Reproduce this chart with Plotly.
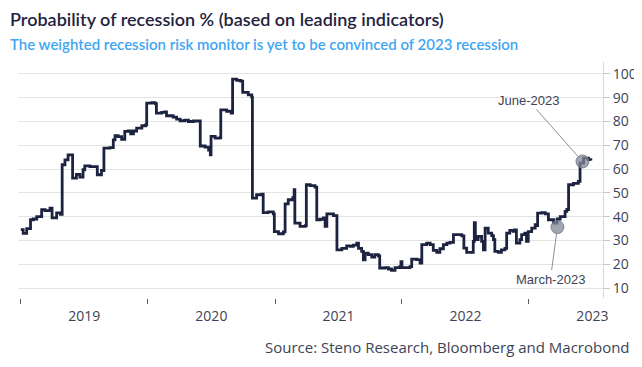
import plotly.graph_objects as go

dates = [
"2019-01-01","2019-01-08","2019-01-18","2019-01-29","2019-02-06","2019-02-16","2019-03-02","2019-03-12","2019-03-26","2019-04-01",
"2019-04-14","2019-04-25","2019-04-30","2019-05-08","2019-05-17","2019-05-27","2019-05-30","2019-06-10","2019-06-20","2019-06-29",
"2019-07-04","2019-07-19","2019-08-02","2019-08-09","2019-08-21","2019-08-28","2019-09-14","2019-09-24","2019-09-29","2019-10-08",
"2019-10-18","2019-10-27","2019-11-06","2019-11-13","2019-11-21","2019-11-30","2019-12-15","2019-12-26","2019-12-29",
"2020-01-12","2020-01-22","2020-01-26","2020-02-10","2020-02-19","2020-02-24","2020-03-14","2020-03-24","2020-04-03","2020-04-17",
"2020-04-27","2020-05-11","2020-05-28","2020-05-31","2020-06-14","2020-06-24","2020-06-29","2020-07-01","2020-07-13","2020-07-27",
"2020-07-29","2020-08-15","2020-08-28","2020-09-01","2020-09-13","2020-09-24","2020-09-30","2020-10-16","2020-10-26","2020-10-28",
"2020-11-09","2020-11-24","2020-11-28","2020-12-12","2020-12-27","2020-12-30",
"2021-01-11","2021-01-25","2021-01-30","2021-02-08","2021-02-21","2021-02-25","2021-02-27","2021-03-14","2021-03-29","2021-04-01",
"2021-04-12","2021-04-26","2021-05-01","2021-05-11","2021-05-20","2021-05-25","2021-05-30","2021-06-08","2021-06-18","2021-06-28",
"2021-07-12","2021-07-22","2021-07-26","2021-08-05","2021-08-14","2021-08-24","2021-08-29","2021-09-07","2021-09-12","2021-09-17",
"2021-09-26","2021-10-06","2021-10-15","2021-10-25","2021-10-29","2021-11-13","2021-11-23","2021-12-02","2021-12-12","2021-12-26",
"2021-12-29",
"2022-01-01","2022-01-15","2022-01-24","2022-01-29","2022-02-12","2022-02-22","2022-02-27","2022-03-13","2022-03-23","2022-04-01",
"2022-04-11","2022-04-20","2022-04-30","2022-05-10","2022-05-19","2022-05-29","2022-06-07","2022-06-22","2022-06-28","2022-07-06",
"2022-07-20","2022-07-25","2022-07-28","2022-07-31","2022-08-08","2022-08-18","2022-08-23","2022-08-28","2022-09-06","2022-09-16",
"2022-09-21","2022-09-25","2022-10-05","2022-10-14","2022-10-24","2022-10-29","2022-11-07","2022-11-17","2022-11-21","2022-11-26",
"2022-12-06","2022-12-11","2022-12-20","2022-12-25","2022-12-30",
"2023-01-09","2023-01-19","2023-01-23","2023-01-26","2023-02-07","2023-02-17","2023-02-26","2023-03-13","2023-03-23","2023-04-01",
"2023-04-15","2023-04-20","2023-04-25","2023-05-09","2023-05-23","2023-05-28","2023-06-07","2023-06-17","2023-06-21","2023-06-28",
]

values = [
34.5,33.0,35.0,38.7,39.0,40.0,42.9,42.5,43.6,39.5,
41.6,41.0,61.8,63.9,66.0,66.0,56.2,57.8,56.6,59.7,
61.3,61.0,61.0,57.6,59.4,68.8,69.0,72.3,74.0,73.6,
72.5,75.8,76.0,74.8,76.0,77.2,78.2,78.6,87.7,
87.9,87.5,83.5,83.8,84.0,82.4,81.8,81.0,80.3,80.6,
80.0,80.2,80.2,69.7,69.2,68.0,66.0,73.7,73.0,73.2,
84.9,84.3,83.5,97.8,97.3,97.0,92.2,91.2,90.2,47.8,
49.2,49.4,41.7,42.0,41.2,33.7,
32.8,33.6,45.4,47.1,48.0,51.3,37.3,35.9,36.2,53.4,
53.0,52.4,38.7,38.9,39.5,35.9,41.2,41.2,40.4,26.0,
26.7,26.7,27.7,27.5,28.0,28.9,26.7,25.4,21.8,24.7,
24.0,23.0,24.0,23.5,18.4,18.6,18.0,17.4,18.6,19.0,
21.1,
18.6,18.6,19.0,22.1,21.9,20.5,28.2,28.9,28.2,25.8,
25.0,26.5,28.2,28.9,29.2,32.4,32.4,31.9,26.8,25.0,
25.0,29.6,37.5,30.3,31.7,29.6,26.0,35.2,33.1,32.0,
30.3,25.4,25.0,26.0,26.7,33.1,34.2,33.8,34.4,28.9,
30.3,32.4,33.1,29.6,33.7,
35.2,36.6,36.2,41.5,41.7,41.2,38.7,37.3,39.0,40.0,
42.2,43.0,53.4,54.0,54.8,62.5,64.6,64.6,64.0,63.6,
]

highlight_dates = ["2023-03-24", "2023-06-04"]
highlight_values = [35.6, 63.2]
highlight_labels = ["March-2023", "June-2023"]

title = "Probability of recession % (based on leading indicators)"
subtitle = "The weighted recession risk monitor is yet to be convinced of 2023 recession"
source = "Source: Steno Research, Bloomberg and Macrobond"

TXT = "#3d4356"

fig = go.Figure()
fig.add_trace(go.Scatter(x=dates, y=values, mode="lines", line=dict(color="#1c2340", width=2.8, shape="hv"),
                         hoverinfo="skip", showlegend=False))
fig.add_trace(go.Scatter(x=highlight_dates, y=highlight_values, mode="markers",
                         marker=dict(size=13, color="rgba(130,135,150,0.75)", line=dict(color="rgba(110,115,130,0.8)", width=1)),
                         showlegend=False, hoverinfo="skip"))

offsets = [(-7, 52), (-54, -61)]
for d, v, lab, (ax, ay) in zip(highlight_dates, highlight_values, highlight_labels, offsets):
    fig.add_annotation(x=d, y=v, xref="x", yref="y", text=lab, showarrow=True, arrowhead=0,
                       arrowwidth=1, arrowcolor="#8a8f9a", ax=ax, ay=ay, standoff=6,
                       font=dict(family="Liberation Sans, Arial", size=13, color=TXT))

fig.add_annotation(xref="paper", yref="paper", x=-10/585, y=1 + (62-19)/236, xanchor="left", yanchor="middle",
                   text=title, showarrow=False,
                   font=dict(family="Lato", size=18, color="#1f2340", weight=600))
fig.add_annotation(xref="paper", yref="paper", x=-10/585, y=1 + (62-44)/236, xanchor="left", yanchor="middle",
                   text=subtitle, showarrow=False,
                   font=dict(family="Lato", size=15, color="#3fa6f2", weight=600))
fig.add_annotation(xref="paper", yref="paper", x=(632-18)/585, y=-(347-298)/236, xanchor="right", yanchor="middle",
                   text=source, showarrow=False,
                   font=dict(family="Open Sans", size=15, color=TXT))

fig.update_layout(
    width=634, height=359,
    margin=dict(l=10, r=39, t=54, b=69),
    paper_bgcolor="white", plot_bgcolor="white",
    font=dict(family="Open Sans", color=TXT),
    xaxis=dict(range=["2018-12-24", "2023-08-02"], dtick="M12", tick0="2019-01-01", tickformat="%Y",
               ticklabelmode="period", ticks="outside", ticklen=5, tickcolor="#555a66", showgrid=False,
               showline=False, zeroline=False, tickfont=dict(size=14, color=TXT), automargin=False),
    yaxis=dict(side="right", range=[5.8, 105], tickvals=[10,20,30,40,50,60,70,80,90,100],
               showgrid=True, gridcolor="#e3e3e3", gridwidth=1, zeroline=False,
               showline=True, linecolor="#d8d8d8", linewidth=1, ticks="outside", ticklen=6,
               tickcolor="#c8c8c8", tickfont=dict(size=14, color=TXT), automargin=False),
)

fig.write_html("out.html")
